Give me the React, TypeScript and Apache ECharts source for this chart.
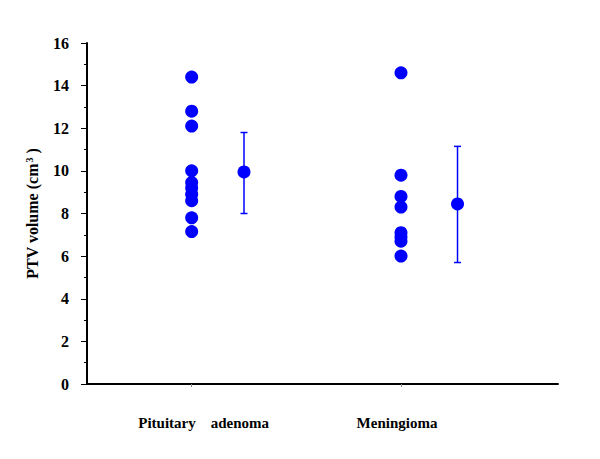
import React, { useEffect, useRef } from "react";
import * as echarts from "echarts";

const categories = ["Pituitary    adenoma", "Meningioma"];
const categoryPos = [1, 3];
const pituitary = [14.4, 12.8, 12.1, 10.0, 9.45, 9.2, 8.9, 8.6, 7.8, 7.15];
const meningioma = [14.6, 9.8, 8.8, 8.3, 7.1, 6.9, 6.7, 6.0];
const meanPos = [1.5, 3.54];
const means = [9.95, 8.45];
const lows = [8.0, 5.7];
const highs = [11.8, 11.15];

const BLUE = "#0000ff";
const FONT = "Liberation Serif";

export default function App() {
  const ref = useRef<HTMLDivElement>(null);
  useEffect(() => {
    const chart = echarts.init(ref.current!, null, { renderer: "svg" });
    const scatterData = [
      ...pituitary.map((v) => [categoryPos[0], v]),
      ...meningioma.map((v) => [categoryPos[1], v]),
    ];
    const meanData = means.map((m, i) => [meanPos[i], m]);
    const errData = means.map((m, i) => [meanPos[i], lows[i], highs[i]]);
    chart.setOption({
      animation: false,
      grid: { left: 87, right: 42, top: 43, bottom: 75 },
      xAxis: {
        type: "value",
        min: 0,
        max: 4.5,
        interval: 0.5,
        splitLine: { show: false },
        axisLine: { show: true, lineStyle: { color: "#000", width: 2 } },
        axisTick: { show: true, customValues: categoryPos, length: 3, lineStyle: { color: "#888" } },
        axisLabel: {
          customValues: categoryPos,
          margin: 31,
          formatter: (v: number) => (v === categoryPos[0] ? "{a|" + categories[0] + "}" : "{b|" + categories[1] + "}"),
          rich: {
            a: { fontFamily: FONT, fontWeight: "bold", fontSize: 15, color: "#000", padding: [0, 0, 0, 24] },
            b: { fontFamily: FONT, fontWeight: "bold", fontSize: 15, color: "#000", padding: [0, 8, 0, 0] },
          },
        },
      },
      yAxis: {
        type: "value",
        min: 0,
        max: 16,
        interval: 2,
        name: "{m|PTV volume (cm}{s|3}{m| )}",
        nameLocation: "middle",
        nameGap: 47,
        nameTextStyle: {
          fontFamily: FONT,
          fontWeight: "bold",
          fontSize: 16,
          color: "#000",
          rich: {
            m: { fontFamily: FONT, fontWeight: "bold", fontSize: 16, color: "#000" },
            s: { fontFamily: FONT, fontWeight: "bold", fontSize: 10, color: "#000", verticalAlign: "top", padding: [0, 0, 6, 1] },
          },
        },
        splitLine: { show: false },
        axisLine: { show: true, lineStyle: { color: "#000", width: 2 } },
        axisTick: { show: true, length: 6, lineStyle: { color: "#000" } },
        minorTick: { show: true, splitNumber: 2, length: 3, lineStyle: { color: "#000" } },
        minorSplitLine: { show: false },
        axisLabel: { fontFamily: FONT, fontWeight: "bold", fontSize: 16, color: "#000", margin: 18 },
      },
      series: [
        {
          type: "custom",
          renderItem: (params: any, api: any) => {
            const x = api.value(0);
            const lo = api.coord([x, api.value(1)]);
            const hi = api.coord([x, api.value(2)]);
            const cap = 3.5;
            const style = { stroke: BLUE, lineWidth: 1.5 };
            return {
              type: "group",
              children: [
                { type: "line", shape: { x1: lo[0], y1: lo[1], x2: hi[0], y2: hi[1] }, style },
                { type: "line", shape: { x1: lo[0] - cap, y1: lo[1], x2: lo[0] + cap, y2: lo[1] }, style },
                { type: "line", shape: { x1: hi[0] - cap, y1: hi[1], x2: hi[0] + cap, y2: hi[1] }, style },
              ],
            };
          },
          data: errData,
          z: 1,
        },
        {
          type: "scatter",
          data: scatterData,
          symbol: "circle",
          symbolSize: 13,
          itemStyle: { color: BLUE, opacity: 1 },
          z: 2,
        },
        {
          type: "scatter",
          data: meanData,
          symbol: "circle",
          symbolSize: 13,
          itemStyle: { color: BLUE, opacity: 1 },
          z: 3,
        },
      ],
    });
    return () => chart.dispose();
  }, []);
  return <div ref={ref} style={{ width: 600, height: 459, position: "absolute", left: 0, top: 0 }} />;
}
